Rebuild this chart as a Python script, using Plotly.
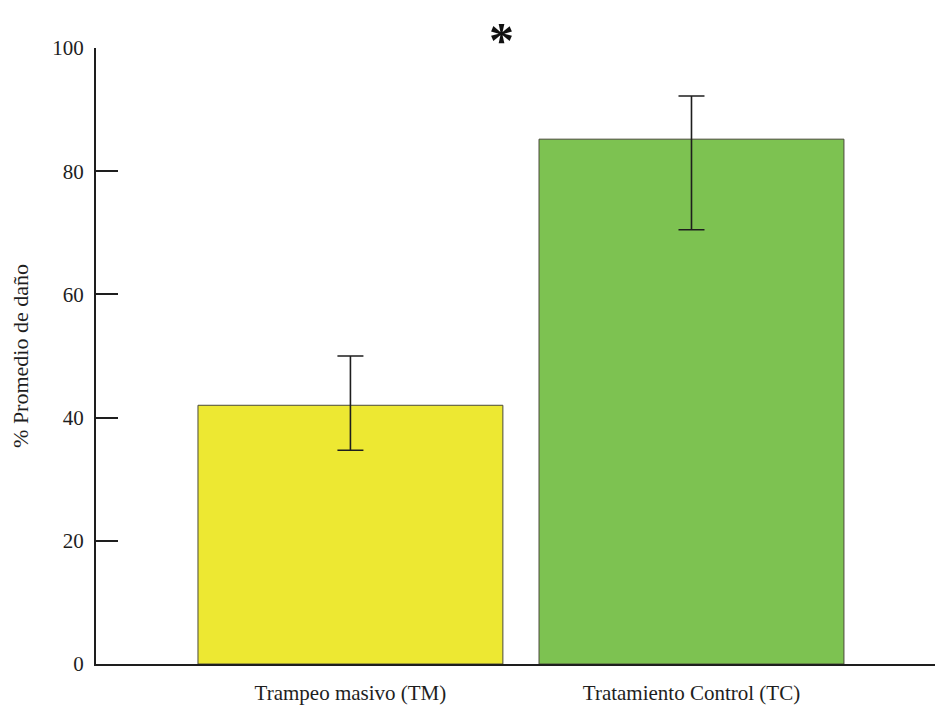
import plotly.graph_objects as go

# Average damage per treatment with asymmetric error bars
categories = ["Trampeo masivo (TM)", "Tratamiento Control (TC)"]
damage_mean = [42.0, 85.2]
err_plus = [8.0, 7.0]
err_minus = [7.3, 14.7]
bar_colors = ["#EDE832", "#7DC251"]
y_ticks = [0, 20, 40, 60, 80, 100]

SERIF = "Liberation Serif"
INK = "#1e1e1e"

fig = go.Figure()
fig.add_trace(go.Bar(
    x=categories,
    y=damage_mean,
    marker=dict(color=bar_colors, line=dict(color="#4a4a3a", width=1)),
    error_y=dict(type="data", symmetric=False, array=err_plus, arrayminus=err_minus,
                 color=INK, thickness=1.6, width=13),
    width=0.894,
    showlegend=False,
))

# significance marker above the chart
fig.add_annotation(
    text="<b>*</b>", x=0.483, y=1.0, xref="paper", yref="paper",
    xanchor="center", yanchor="bottom", yshift=-22, showarrow=False,
    font=dict(family=SERIF, size=50, color="#111111"),
)

fig.update_layout(
    width=939, height=706,
    margin=dict(l=96, r=4, t=48, b=42),
    paper_bgcolor="white", plot_bgcolor="white",
    font=dict(family=SERIF, color=INK),
)
fig.update_xaxes(
    range=[-0.746, 1.714],
    showline=True, linecolor=INK, linewidth=2,
    showgrid=False, ticks="", automargin=False,
    ticklabelstandoff=9,
    tickfont=dict(size=21, family=SERIF, color=INK),
)
fig.update_yaxes(
    range=[0, 100], tickvals=y_ticks,
    showline=True, linecolor=INK, linewidth=2,
    showgrid=False, zeroline=False, automargin=False,
    ticks="inside", ticklen=22, tickwidth=2, tickcolor=INK,
    ticklabelstandoff=6,
    tickfont=dict(size=21, family=SERIF, color=INK),
    title=dict(text="% Promedio de daño", standoff=18,
               font=dict(size=22, family=SERIF, color=INK)),
)

fig.write_html("out.html")
